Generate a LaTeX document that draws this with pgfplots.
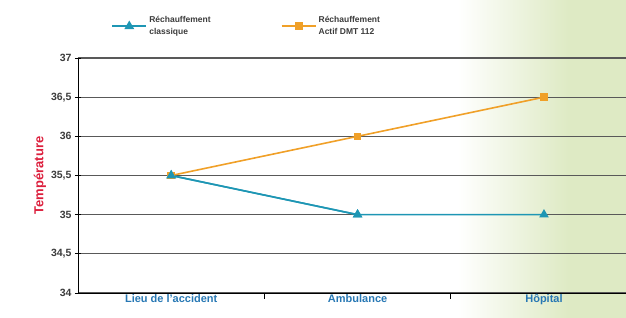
\documentclass[border=0pt]{standalone}
\usepackage{pgfplots}
\pgfplotsset{compat=1.18}
\usepackage{fontspec}
\setmainfont{Liberation Sans}
\definecolor{cblue}{RGB}{30,150,180}
\definecolor{corange}{RGB}{240,160,40}
\definecolor{xlab}{RGB}{40,120,180}
\definecolor{ylab}{RGB}{220,30,60}
\definecolor{tick}{RGB}{60,60,60}
\definecolor{bggreen}{RGB}{222,234,196}
\begin{document}
\begin{tikzpicture}
\useasboundingbox (-78pt,-25pt) rectangle (548pt,293pt);
\shade[left color=white, right color=bggreen] (380pt,-25pt) rectangle (490pt,293pt);
\fill[bggreen] (490pt,-25pt) rectangle (548pt,293pt);
\begin{axis}[
  at={(0,0)}, anchor=south west,
  scale only axis, width=548pt, height=235pt,
  xmin=-0.5, xmax=2.44, ymin=34, ymax=37,
  axis x line*=bottom, axis y line*=left,
  axis line style={black, line width=0.8pt},
  xtick={0.5,1.5}, xticklabels={},
  extra x ticks={0,1,2},
  extra x tick labels={Lieu de l'accident, Ambulance, H\^opital},
  extra x tick style={major tick length=0pt, ticklabel style={text=xlab, font=\bfseries\fontsize{11}{12}\selectfont, yshift=2pt}},
  x tick style={black, line width=0.8pt}, xtick align=outside, major tick length=6pt,
  ytick={34,34.5,...,37},
  yticklabels={34,{34,5},35,{35,5},36,{36,5},37},
  y tick style={black, line width=0.8pt},
  ytick align=center,
  yticklabel style={text=tick, font=\bfseries\fontsize{10.5}{11}\selectfont},
  ymajorgrids, grid style={draw=gray!70!black, line width=1.2pt},
  ylabel={Temp\'erature},
  ylabel style={text=ylab, font=\bfseries\fontsize{13}{14}\selectfont, yshift=-2pt},
  legend columns=2,
  legend style={at={(rel axis cs:0.055,1.075)}, anchor=south west, draw=none, fill=none,
    font=\bfseries\fontsize{8.5}{12}\selectfont, text=tick,
    nodes={align=left}, /tikz/every even column/.append style={column sep=68pt}},
  legend cell align=left,
  legend image code/.code={\draw[line width=1.8pt, mark repeat=2,mark phase=2] plot coordinates {(0cm,0cm) (0.6cm,0cm) (1.2cm,0cm)};},
  clip=false,
]
\addplot[cblue, line width=1.6pt, mark=triangle*, mark size=4pt, mark options={fill=cblue}]
  coordinates {(0,35.5) (1,35) (2,35)};
\addlegendentry{R\'echauffement\\classique}
\addplot[corange, line width=1.6pt, mark=square*, mark size=3pt, mark options={fill=corange}]
  coordinates {(0,35.5) (1,36) (2,36.5)};
\addlegendentry{R\'echauffement\\Actif DMT 112}
\addplot[cblue, line width=1.6pt, mark=triangle*, mark size=4pt, mark options={fill=cblue}, forget plot]
  coordinates {(0,35.5) (1,35)};
\end{axis}
\end{tikzpicture}
\end{document}
